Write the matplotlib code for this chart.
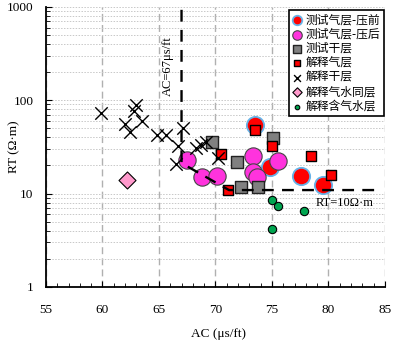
import matplotlib
matplotlib.use("Agg")
import matplotlib.pyplot as plt
from matplotlib.ticker import FixedLocator, LogLocator, NullFormatter, FuncFormatter

plt.rcParams['font.family'] = ['Liberation Serif', 'Noto Sans CJK SC', 'DejaVu Sans']
plt.rcParams['mathtext.fontset'] = 'stix'

# 测试气层-压前
pre_ac = [73.5, 74.8, 77.6, 79.5]
pre_rt = [54.3, 19.4, 15.4, 12.3]
# 测试气层-压后
post_ac = [67.45, 68.8, 70.1, 73.35, 73.3, 73.7, 75.55]
post_rt = [23.0, 15.1, 15.4, 25.5, 17.1, 15.2, 22.5]
# 测试干层
dry_ac = [69.7, 71.9, 75.1, 72.3, 73.8]
dry_rt = [36.0, 22.0, 39.0, 11.7, 11.7]
# 解释气层
gas_ac = [73.5, 75.0, 70.5, 78.45, 80.2, 71.1]
gas_rt = [48.0, 32.5, 26.5, 25.0, 16.0, 11.0]
# 解释干层
xdry_ac = [59.9, 62.0, 62.4, 62.8, 63.0, 63.5, 64.8, 65.6, 66.5, 66.65, 67.1, 68.3, 68.7, 69.2, 70.25]
xdry_rt = [73.0, 55.0, 46.0, 77.0, 89.0, 60.0, 42.5, 42.5, 20.7, 32.0, 50.0, 30.5, 33.0, 36.0, 24.0]
# 解释气水同层
gw_ac = [62.2]
gw_rt = [14.0]
# 解释含气水层
wat_ac = [75.0, 75.5, 77.8, 75.0]
wat_rt = [8.5, 7.4, 6.5, 4.2]

# cutoff line: AC=67, RT=10
cut_ac = [67, 67, 71.2, 84.3]
cut_rt = [930, 21.2, 10.9, 10.9]

fig = plt.figure(figsize=(3.96, 3.44), dpi=100)
ax = fig.add_axes([0.116, 0.166, 0.856, 0.814])

ax.scatter(pre_ac, pre_rt, s=155, c='#ff0000', edgecolors='#66b3e8', linewidths=1.3, zorder=3, label='测试气层-压前')
ax.scatter(post_ac, post_rt, s=155, c='#ff33dd', edgecolors='#444444', linewidths=0.8, zorder=4, label='测试气层-压后')
ax.scatter(dry_ac, dry_rt, s=85, marker='s', c='#808080', edgecolors='#222222', linewidths=1.0, zorder=4, label='测试干层')
ax.scatter(gas_ac, gas_rt, s=52, marker='s', c='#ff0000', edgecolors='black', linewidths=1.0, zorder=5, label='解释气层')
ax.scatter(xdry_ac, xdry_rt, s=80, marker='x', c='black', linewidths=1.0, zorder=5, label='解释干层')
ax.scatter(gw_ac, gw_rt, s=75, marker='D', c='#ff99cc', edgecolors='black', linewidths=0.8, zorder=4, label='解释气水同层')
ax.scatter(wat_ac, wat_rt, s=36, c='#00a550', edgecolors='black', linewidths=0.8, zorder=4, label='解释含气水层')

ax.plot(cut_ac, cut_rt, color='black', lw=1.7, ls=(0, (5, 3.5)), zorder=6)
ax.text(65.75, 230, 'AC=67μs/ft', rotation=90, ha='center', va='center', fontsize=9, zorder=7)
ax.text(78.9, 8.0, 'RT=10Ω·m', ha='left', va='center', fontsize=9, zorder=7)

ax.set_yscale('log')
ax.set_xlim(55, 85)
ax.set_ylim(1, 1000)
ax.set_xticks([55, 60, 65, 70, 75, 80, 85])
ax.xaxis.set_minor_locator(FixedLocator(list(range(55, 86))))
ax.yaxis.set_major_locator(FixedLocator([1, 10, 100, 1000]))
ax.yaxis.set_major_formatter(FuncFormatter(lambda v, p: '%d' % v))
ax.yaxis.set_minor_locator(LogLocator(base=10, subs=range(2, 10)))
ax.yaxis.set_minor_formatter(NullFormatter())

ax.grid(axis='x', which='major', color='#b0b0b0', ls=(0, (5, 3)), lw=1.0)
ax.grid(axis='y', which='both', color='#c8c8c8', ls=(0, (1.5, 1.5)), lw=0.7)
ax.set_axisbelow(True)

ax.spines['top'].set_visible(False)
ax.spines['right'].set_visible(False)
ax.spines['left'].set_linewidth(1.3)
ax.spines['bottom'].set_linewidth(1.3)
ax.tick_params(axis='x', which='major', direction='in', length=4, pad=12, labelsize=9.5)
ax.tick_params(axis='x', which='minor', direction='in', length=3)
ax.tick_params(axis='y', which='major', direction='in', length=4, pad=9, labelsize=9.5)
ax.tick_params(axis='y', which='minor', direction='in', length=3)

ax.set_xlabel('AC (μs/ft)', fontsize=9.5)
ax.set_ylabel('RT (Ω·m)', fontsize=9.5)
ax.xaxis.set_label_coords(0.51, -0.148)
ax.yaxis.set_label_coords(-0.075, 0.5)

leg = ax.legend(loc='upper right', bbox_to_anchor=(0.997, 0.99), borderaxespad=0,
                fancybox=False, edgecolor='black', framealpha=1, markerscale=0.55,
                prop={'family': ['Noto Sans CJK SC', 'DejaVu Sans'], 'size': 8.5},
                handlelength=0.8, handletextpad=0.3, labelspacing=0.12, borderpad=0.3)
leg.get_frame().set_linewidth(1.2)
leg.set_zorder(10)

fig.savefig('out.png', dpi=100)
